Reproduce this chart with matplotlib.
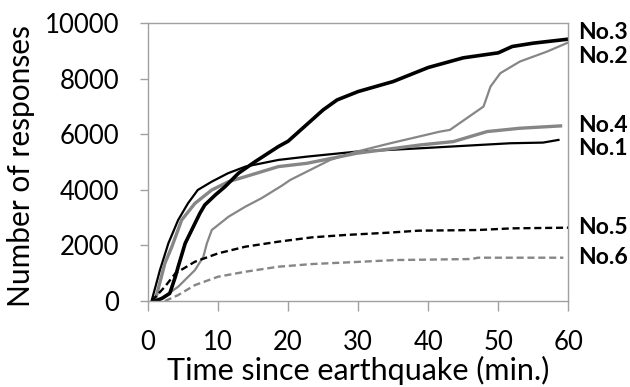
import numpy as np
import matplotlib
matplotlib.use('Agg')
import matplotlib.pyplot as plt

plt.rcParams['font.family'] = ['Lato', 'DejaVu Sans']

# series (minutes, responses)
x1 = [0.5, 1.7, 2.9, 4.3, 5.7, 7.1, 9.1, 11.4, 13.9, 18.6, 22.7, 29.8, 38.9, 47.4, 51.7, 56.4, 58.6]
y1 = [0, 1116, 2076, 2916, 3516, 3996, 4296, 4596, 4836, 5076, 5196, 5376, 5496, 5616, 5676, 5700, 5796]

x2 = [1.4, 4.3, 6.7, 7.9, 8.4, 9.1, 11.5, 13.9, 16.2, 19.1, 20.3, 26.0, 29.8, 34.6, 41.7, 43.1, 47.9, 48.9, 50.3, 53.1, 57.0, 60.0]
y2 = [0, 516, 1116, 1596, 2076, 2556, 3036, 3396, 3700, 4150, 4356, 5076, 5376, 5676, 6096, 6156, 6996, 7716, 8196, 8616, 8976, 9300]

x3 = [1.0, 2.0, 3.1, 3.9, 4.3, 5.3, 6.7, 7.4, 8.1, 9.6, 11.0, 12.9, 15.3, 18.6, 20.0, 25.0, 27.0, 30.0, 35.0, 40.0, 45.0, 50.0, 52.0, 55.0, 60.0]
y3 = [0, 100, 276, 876, 1236, 2076, 2796, 3156, 3456, 3816, 4116, 4596, 5016, 5556, 5750, 6876, 7236, 7536, 7896, 8400, 8748, 8928, 9156, 9276, 9420]

x4 = [1.0, 2.4, 3.4, 4.8, 6.7, 9.1, 11.5, 13.9, 18.6, 22.7, 29.8, 38.9, 43.6, 48.4, 53.1, 58.9]
y4 = [0, 1356, 1956, 2916, 3516, 3996, 4296, 4476, 4836, 4956, 5316, 5616, 5736, 6096, 6216, 6300]

x5 = [0.5, 2.4, 3.9, 6.7, 10.0, 13.9, 18.6, 23.4, 28.1, 34.3, 38.6, 47.1, 52.0, 60.0]
y5 = [0, 516, 996, 1416, 1716, 1956, 2136, 2292, 2376, 2460, 2532, 2556, 2616, 2640]

x6 = [2.4, 4.3, 6.7, 10.0, 13.9, 18.6, 23.4, 30.5, 35.3, 46.2, 47.1, 59.3]
y6 = [0, 216, 576, 876, 1056, 1236, 1332, 1416, 1476, 1512, 1560, 1560]

names = ['No.3', 'No.2', 'No.4', 'No.1', 'No.5', 'No.6']
label_y = [9650, 8800, 6330, 5500, 2630, 1550]

grey = '#868686'
fig = plt.figure(figsize=(6.3, 3.87), dpi=100)
ax = fig.add_axes([0.235, 0.222, 0.667, 0.7185])

ax.plot(x1, y1, color='black', lw=1.6)
ax.plot(x4, y4, color=grey, lw=2.4)
ax.plot(x2, y2, color=grey, lw=1.6)
ax.plot(x3, y3, color='black', lw=2.6)
ax.plot(x5, y5, color='black', lw=1.7, ls=(0, (3, 1.6)))
ax.plot(x6, y6, color=grey, lw=1.7, ls=(0, (3, 1.6)))

for n, yy in zip(names, label_y):
    ax.text(61.4, yy, n, fontsize=16.5, fontweight='bold', va='center', ha='left', clip_on=False)

ax.set_xlim(0, 60)
ax.set_ylim(0, 10000)
ax.set_xticks(np.arange(0, 61, 10))
ax.set_yticks(np.arange(0, 10001, 2000))
for s in ax.spines.values():
    s.set_color('#a0a0a0')
    s.set_linewidth(1.0)
ax.tick_params(colors='#a0a0a0', labelcolor='black', labelsize=18.5, width=1.0)
ax.tick_params(axis='x', length=7, pad=14)
ax.tick_params(axis='y', length=5.5, pad=15)

fig.text(0.569, 0.018, 'Time since earthquake (min.)', fontsize=22,
         ha='center', va='baseline')
fig.text(0.0476, 0.571, 'Number of responses', fontsize=21.5, rotation=90,
         rotation_mode='anchor', ha='center', va='baseline')

plt.savefig('out.png', dpi=100)
